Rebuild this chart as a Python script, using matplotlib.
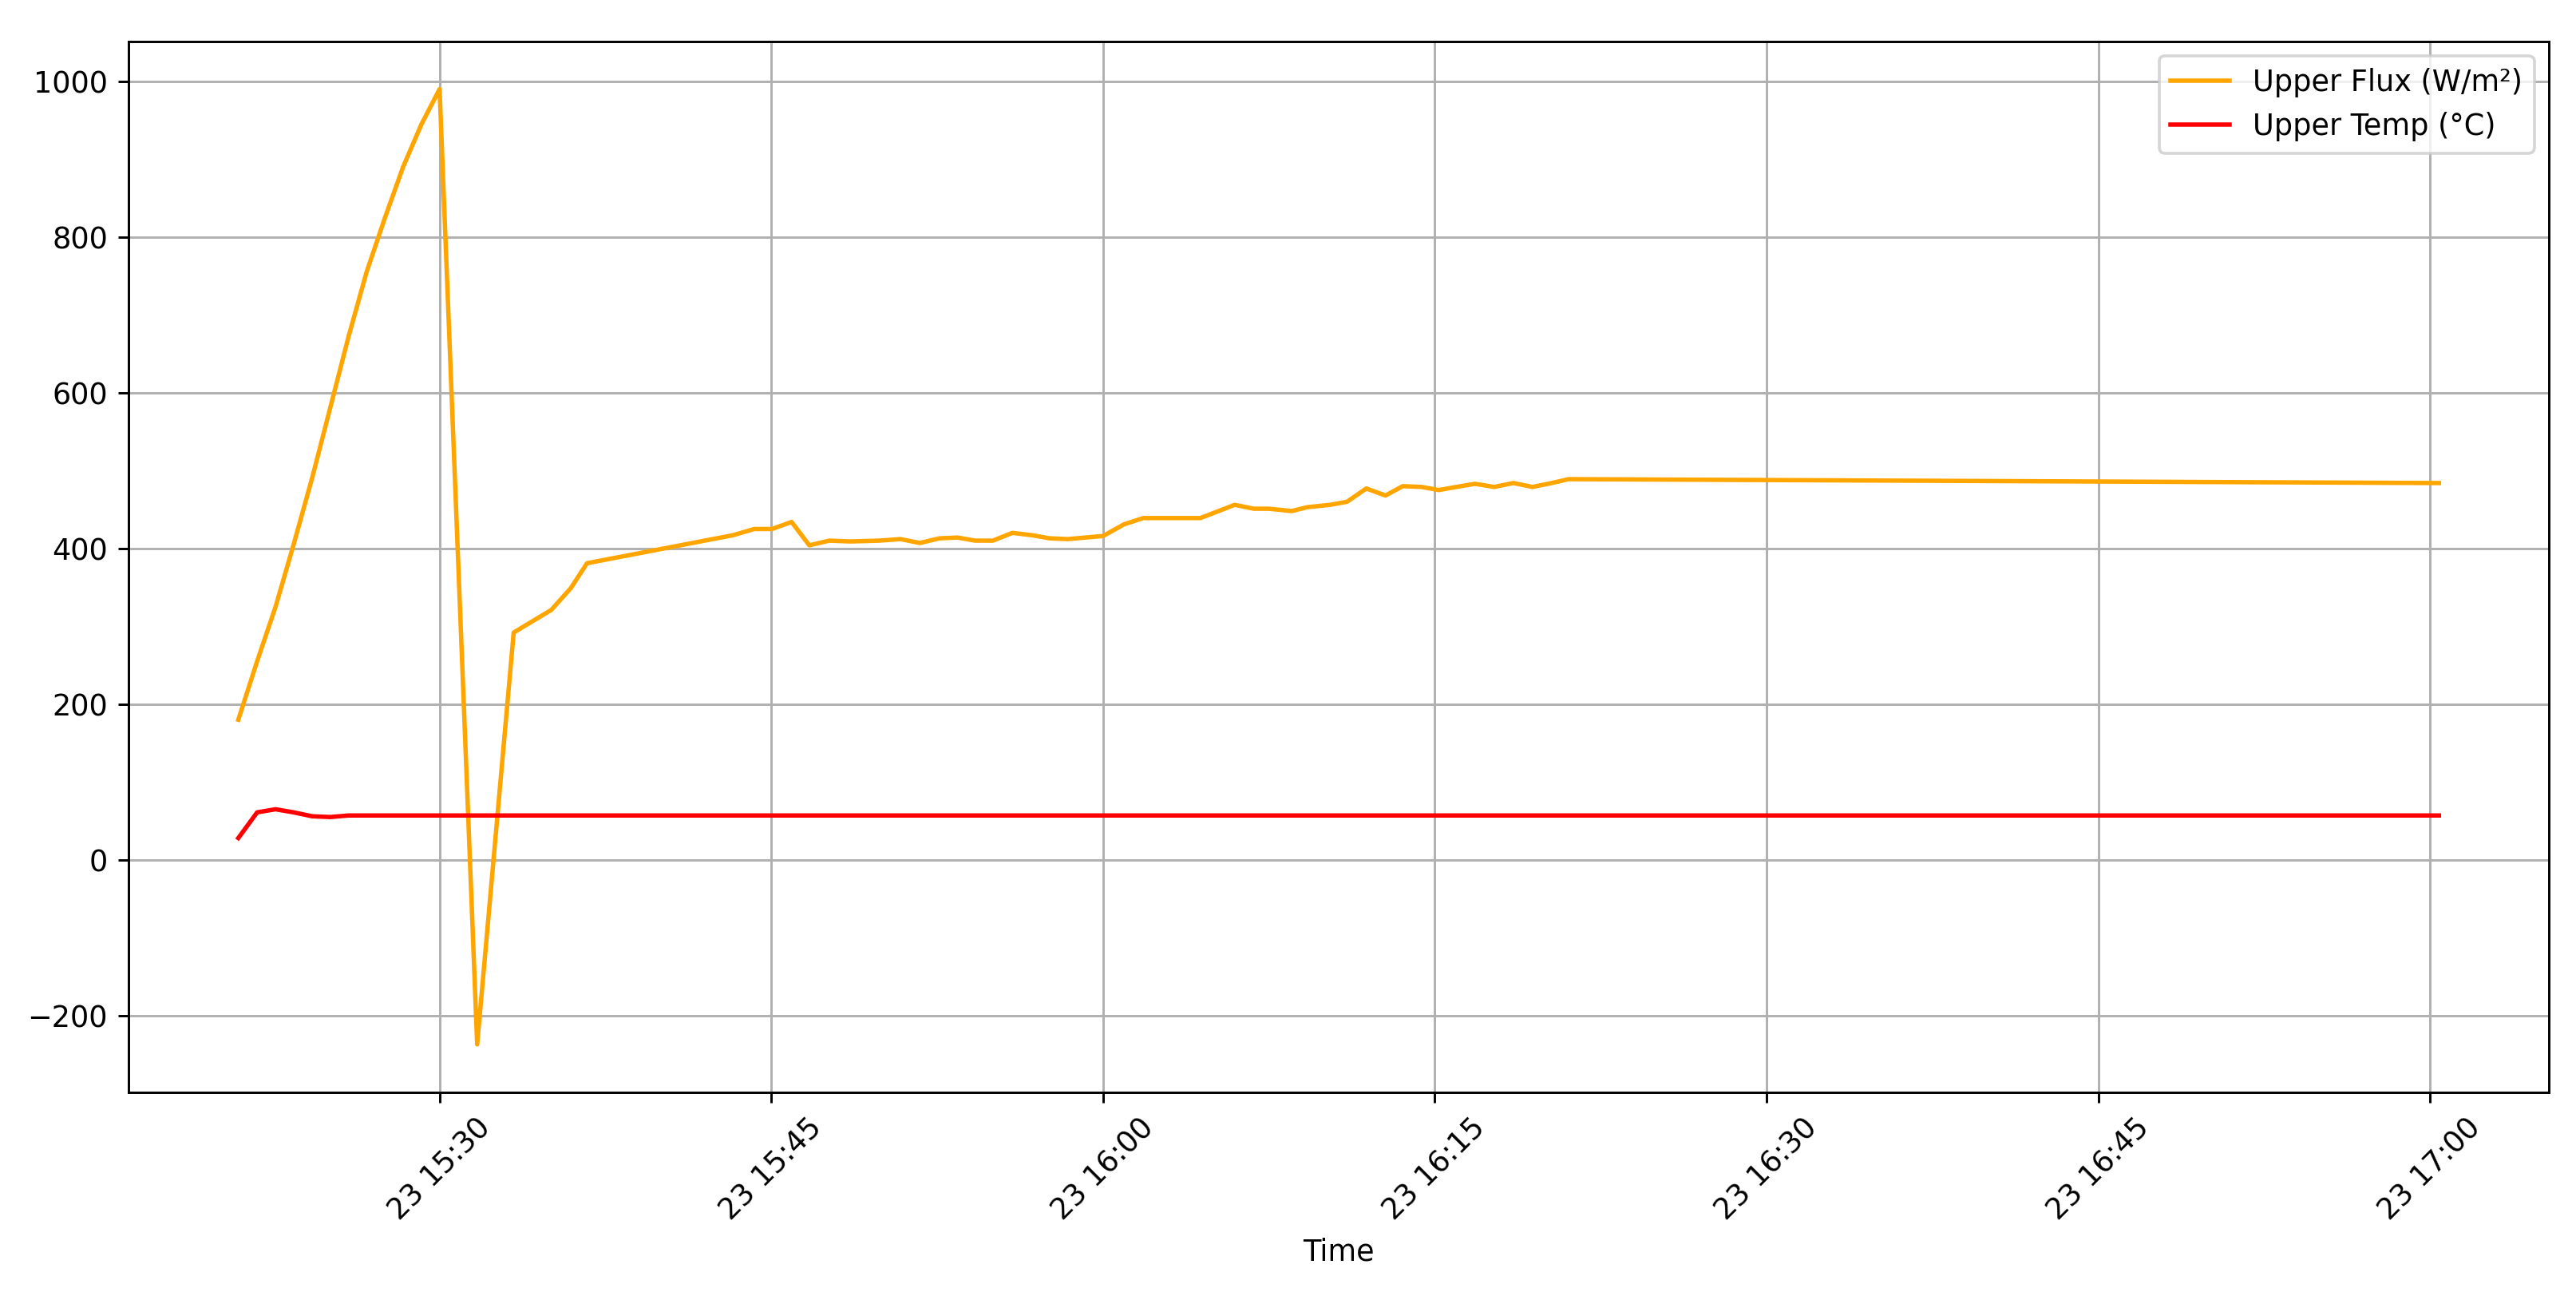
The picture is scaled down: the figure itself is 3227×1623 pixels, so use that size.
import matplotlib; matplotlib.use("Agg")
import matplotlib.pyplot as plt
import pandas as pd

DAY = "2024-07-23 "
times = ["15:20:54", "15:21:45", "15:22:35", "15:23:24", "15:24:14", "15:25:03",
         "15:25:53", "15:26:42", "15:27:32", "15:28:21", "15:29:11", "15:30:00",
         "15:31:42", "15:33:21", "15:35:03", "15:35:56", "15:36:40", "15:43:16",
         "15:44:14", "15:45:02", "15:45:55", "15:46:43", "15:47:37", "15:48:34",
         "15:49:52", "15:50:50", "15:51:43", "15:52:36", "15:53:25", "15:54:13",
         "15:55:01", "15:55:54", "15:56:47", "15:57:35", "15:58:24", "16:00:00",
         "16:00:57", "16:01:49", "16:04:24", "16:05:57", "16:06:49", "16:07:30",
         "16:08:32", "16:09:14", "16:10:16", "16:11:02", "16:11:54", "16:12:46",
         "16:13:33", "16:14:24", "16:15:11", "16:15:58", "16:16:49", "16:17:41",
         "16:18:33", "16:19:25", "16:20:17", "16:21:03", "17:00:24"]

upper_flux = [180, 255, 325, 405, 490, 580, 672, 755, 825, 890, 945, 990,
              -237, 292, 321, 349, 381, 417,
              425, 425, 434, 404, 410, 409,
              410, 412, 407, 413, 414, 410,
              410, 420, 417, 413, 412, 416,
              431, 439, 439, 456, 451, 451,
              448, 453, 456, 460, 477, 468,
              480, 479, 475, 479, 483, 479,
              484, 479, 484, 489, 484]

upper_temp = [28, 61, 65, 61, 56, 55, 57, 57, 57, 57, 57, 57,
              57, 57, 57, 57, 57, 57,
              57, 57, 57, 57, 57, 57,
              57, 57, 57, 57, 57, 57,
              57, 57, 57, 57, 57, 57,
              57, 57, 57, 57, 57, 57,
              57, 57, 57, 57, 57, 57,
              57, 57, 57, 57, 57, 57,
              57, 57, 57, 57, 57]

t = pd.to_datetime([DAY + s for s in times])

DPI = 264
fig = plt.figure(figsize=(3227/DPI, 1623/DPI), dpi=DPI)
ax = fig.add_axes([0.0498, 0.1573, 0.9397, 0.8108])
ax.plot(t, upper_flux, color="orange", label="Upper Flux (W/m²)")
ax.plot(t, upper_temp, color="red", label="Upper Temp (°C)")
ax.set_xlabel("Time")
ax.grid(True)
ax.legend(loc="upper right")
plt.setp(ax.get_xticklabels(), rotation=45)
fig.savefig("out.png", dpi=DPI)
